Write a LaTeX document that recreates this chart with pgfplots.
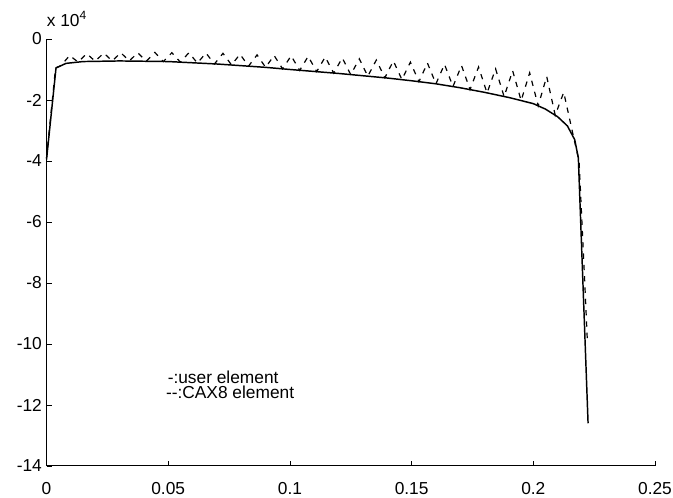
\documentclass[border=0pt]{standalone}
\usepackage{fontspec}
\setmainfont{Liberation Sans}
\usepackage{pgfplots}
\pgfplotsset{compat=1.18}
\begin{document}
\begin{tikzpicture}
\path[use as bounding box] (-34.9pt,-24pt) rectangle (469.9pt,349.5pt);
\begin{axis}[
  at={(0,0)}, anchor=south west,
  scale only axis, width=456.4pt, height=320.25pt,
  xmin=0, xmax=0.25, ymin=-14, ymax=0,
  axis lines=left, axis line style={-, line width=0.8pt},
  tick align=inside, major tick length=4pt,
  tick style={line width=0.6pt, black},
  xtick={0,0.05,0.1,0.15,0.2,0.25},
  xticklabels={0,0.05,0.1,0.15,0.2,0.25},
  ytick={-14,-12,-10,-8,-6,-4,-2,0},
  yticklabels={-14,-12,-10,-8,-6,-4,-2,0},
  tick label style={font=\fontsize{13}{15}\selectfont},
  xticklabel style={yshift=-8.5pt},
  clip=false,
]
\addplot[black, line width=1.1pt] coordinates {
(0,-3.95) (0.0039,-0.95) (0.008,-0.8) (0.015,-0.74) (0.03,-0.72) (0.05,-0.74)
(0.07,-0.82) (0.09,-0.93) (0.10,-1.0) (0.12,-1.13) (0.14,-1.28) (0.15,-1.37)
(0.16,-1.47) (0.17,-1.6) (0.18,-1.75) (0.19,-1.92) (0.20,-2.12) (0.205,-2.3)
(0.21,-2.55) (0.214,-2.85) (0.217,-3.3) (0.2185,-3.9) (0.2225,-12.6)
};
\addplot[black, line width=0.9pt, dash pattern=on 4pt off 4.5pt] coordinates {
(0,-3.9) (0.0037,-0.95) (0.006,-0.87) (0.0095,-0.54) (0.013,-0.76) (0.0165,-0.48)
(0.020,-0.73) (0.0235,-0.46) (0.027,-0.72) (0.0305,-0.45) (0.034,-0.72) (0.0375,-0.45)
(0.041,-0.73) (0.0445,-0.44) (0.048,-0.74) (0.0515,-0.45) (0.055,-0.76) (0.0585,-0.45)
(0.062,-0.79) (0.0655,-0.46) (0.069,-0.82) (0.0725,-0.47) (0.076,-0.85) (0.0795,-0.50)
(0.083,-0.89) (0.0865,-0.52) (0.090,-0.93) (0.0935,-0.54) (0.097,-0.98) (0.1005,-0.55)
(0.104,-1.03) (0.1075,-0.57) (0.111,-1.07) (0.1145,-0.59) (0.118,-1.12) (0.1215,-0.62)
(0.125,-1.17) (0.1285,-0.65) (0.132,-1.22) (0.1355,-0.69) (0.139,-1.27) (0.1425,-0.72)
(0.146,-1.33) (0.1495,-0.76) (0.153,-1.40) (0.1565,-0.79) (0.160,-1.47) (0.1635,-0.83)
(0.167,-1.56) (0.1705,-0.87) (0.174,-1.66) (0.1775,-0.92) (0.181,-1.77) (0.1845,-0.98)
(0.188,-1.89) (0.1915,-1.04) (0.195,-2.02) (0.1985,-1.11) (0.202,-2.19) (0.2055,-1.23)
(0.209,-2.50) (0.2125,-1.75) (0.2165,-3.2) (0.2188,-4.0) (0.2212,-8.1) (0.2222,-9.9)
};
\node[anchor=base west, inner sep=0pt, font=\fontsize{13}{15}\selectfont] at (rel axis cs:0,1) [yshift=9pt] {x 10\raisebox{0.45em}{\fontsize{9}{10}\selectfont 4}};
\node[anchor=west, inner sep=0pt, font=\fontsize{13}{15}\selectfont] at (axis cs:0.0497,-11.08) {-:user element};
\node[anchor=west, inner sep=0pt, font=\fontsize{13}{15}\selectfont] at (axis cs:0.049,-11.6) {-{}-:CAX8 element};
\end{axis}
\end{tikzpicture}
\end{document}
